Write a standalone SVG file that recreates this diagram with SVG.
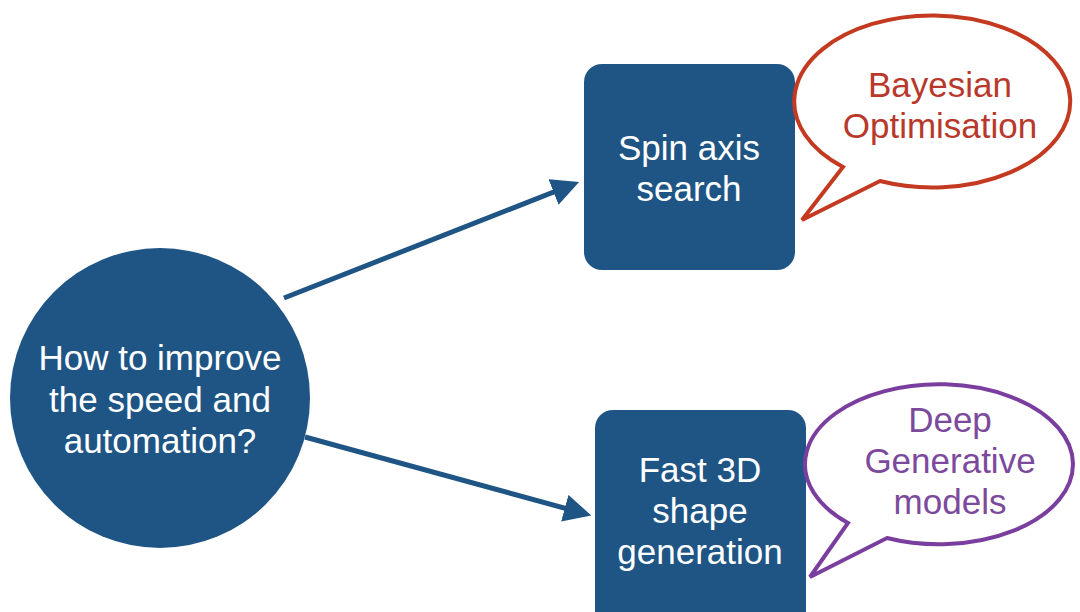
<svg xmlns="http://www.w3.org/2000/svg" width="1080" height="612" viewBox="0 0 1080 612">
<defs>
<style>
.node{fill:#1f5585;}
.wt{font-family:"Liberation Sans",Arial,sans-serif;font-size:35px;fill:#ffffff;text-anchor:middle;}
.bt{font-family:"Liberation Sans",Arial,sans-serif;font-size:35px;text-anchor:middle;}
.conn{stroke:#1f5585;stroke-width:5;fill:none;}
</style>
<marker id="ah" viewBox="0 0 10 10" refX="8" refY="5" markerWidth="5.5" markerHeight="5.5" markerUnits="strokeWidth" orient="auto">
<path d="M0,0 L10,5 L0,10 z" fill="#1f5585"/>
</marker>
</defs>
<rect width="1080" height="612" fill="#ffffff"/>
<g id="connectors">
<line class="conn" x1="284" y1="298" x2="574" y2="184" marker-end="url(#ah)"/>
<line class="conn" x1="305" y1="437" x2="586" y2="514" marker-end="url(#ah)"/>
</g>
<g id="question">
<circle class="node" cx="160" cy="398" r="150"/>
<text class="wt" x="160" y="370">How to improve</text>
<text class="wt" x="160" y="412">the speed and</text>
<text class="wt" x="160" y="453">automation?</text>
</g>
<g id="spin">
<rect class="node" x="584" y="64" width="211" height="206" rx="18"/>
<text class="wt" x="689" y="160">Spin axis</text>
<text class="wt" x="689" y="201">search</text>
</g>
<g id="fast3d">
<rect class="node" x="595" y="410" width="211" height="230" rx="18"/>
<text class="wt" x="700" y="482">Fast 3D</text>
<text class="wt" x="700" y="523">shape</text>
<text class="wt" x="700" y="564">generation</text>
</g>
<g id="bayes">
<path d="M843,167 A138,86 0 1 1 880,181 L802,220 Z" fill="#ffffff" stroke="#c33a20" stroke-width="4" stroke-linejoin="miter"/>
<text class="bt" x="940" y="97" fill="#b8392c">Bayesian</text>
<text class="bt" x="940" y="138" fill="#b8392c">Optimisation</text>
</g>
<g id="deep">
<path d="M848,523 A134,80 0 1 1 887,538 L810,577 Z" fill="#ffffff" stroke="#7a3e9e" stroke-width="4"/>
<text class="bt" x="950" y="432" fill="#7c4a9c">Deep</text>
<text class="bt" x="950" y="473" fill="#7c4a9c">Generative</text>
<text class="bt" x="950" y="514" fill="#7c4a9c">models</text>
</g>
</svg>
